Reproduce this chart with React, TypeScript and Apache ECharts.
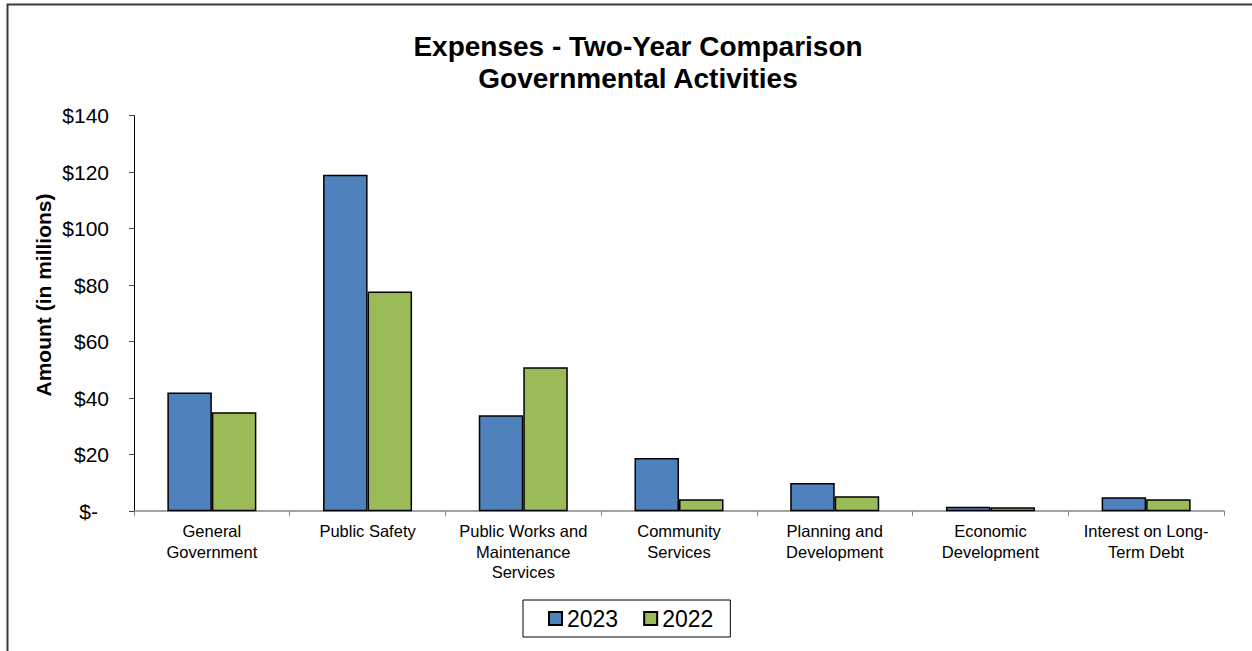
import React, { useEffect, useRef } from "react";
import * as echarts from "echarts";

const categories = [
  "General\nGovernment",
  "Public Safety",
  "Public Works and\nMaintenance\nServices",
  "Community\nServices",
  "Planning and\nDevelopment",
  "Economic\nDevelopment",
  "Interest on Long-\nTerm Debt",
];
const values2023 = [42.0, 119.1, 34.0, 18.8, 10.0, 1.6, 4.9];
const values2022 = [35.0, 77.8, 51.0, 4.2, 5.3, 1.4, 4.2];
const seriesNames = ["2023", "2022"];
const yTicks = { min: 0, max: 140, interval: 20 };

const FONT = "'Liberation Sans', Arial, sans-serif";

export default function App() {
  const ref = useRef<HTMLDivElement>(null);
  useEffect(() => {
    if (!ref.current) return;
    const chart = echarts.init(ref.current, null, { renderer: "svg" });
    const barStyle = (color: string) => ({
      color,
      borderColor: "#000",
      borderWidth: 1.5,
    });
    chart.setOption({
      animation: false,
      backgroundColor: "#fff",
      textStyle: { fontFamily: FONT },
      title: {
        text: "Expenses - Two-Year Comparison\nGovernmental Activities",
        left: 633,
        top: 25,
        textAlign: "center",
        textStyle: {
          fontFamily: FONT,
          fontSize: 28,
          fontWeight: "bold",
          lineHeight: 32,
          color: "#000",
        },
      },
      graphic: [
        {
          type: "rect",
          shape: { x: 7.5, y: 4.5, width: 1300, height: 700 },
          style: { fill: "none", stroke: "#3a3a3a", lineWidth: 2 },
          silent: true,
        },
        {
          type: "text",
          x: 43,
          y: 295,
          rotation: Math.PI / 2,
          style: {
            text: "Amount (in millions)",
            align: "center",
            verticalAlign: "middle",
            font: `bold 21px ${FONT}`,
            fill: "#000",
          },
        },
      ],
      legend: {
        data: seriesNames,
        icon: "rect",
        left: 523,
        top: 600,
        orient: "horizontal",
        itemWidth: 13,
        itemHeight: 13,
        itemGap: 25,
        padding: [7, 17, 7, 25],
        borderColor: "#000",
        borderWidth: 1,
        backgroundColor: "#fff",
        textStyle: { fontFamily: FONT, fontSize: 23, color: "#000" },
      },
      grid: { left: 134, right: 28, top: 115.7, bottom: 139.8, containLabel: false },
      xAxis: {
        type: "category",
        data: categories,
        boundaryGap: true,
        axisLine: { show: true, lineStyle: { color: "#868686", width: 1.5 } },
        axisTick: { show: true, length: 5, alignWithLabel: false, lineStyle: { color: "#868686" } },
        axisLabel: {
          interval: 0,
          margin: 10,
          fontFamily: FONT,
          fontSize: 16.5,
          lineHeight: 20.5,
          color: "#000",
        },
        splitLine: { show: false },
      },
      yAxis: {
        type: "value",
        min: yTicks.min,
        max: yTicks.max,
        interval: yTicks.interval,
        axisLine: { show: true, lineStyle: { color: "#000", width: 1 } },
        axisTick: { show: true, length: 5, lineStyle: { color: "#444" } },
        splitLine: { show: false },
        axisLabel: {
          margin: 25,
          fontFamily: FONT,
          fontSize: 21,
          color: "#000",
          formatter: (v: number) => (v === 0 ? "{d|$-}" : "$" + v),
          rich: {
            d: { fontFamily: FONT, fontSize: 21, color: "#000", padding: [0, 11, 0, 0] },
          },
        },
      },
      series: [
        {
          name: seriesNames[0],
          type: "bar",
          data: values2023,
          barWidth: 44.5,
          barGap: "0%",
          itemStyle: barStyle("#4F81BD"),
        },
        {
          name: seriesNames[1],
          type: "bar",
          data: values2022,
          barWidth: 44.5,
          barGap: "0%",
          itemStyle: barStyle("#9BBB59"),
        },
      ],
    });
    return () => chart.dispose();
  }, []);
  return (
    <div
      ref={ref}
      style={{ position: "absolute", left: 0, top: 0, width: 1252, height: 651 }}
    />
  );
}
